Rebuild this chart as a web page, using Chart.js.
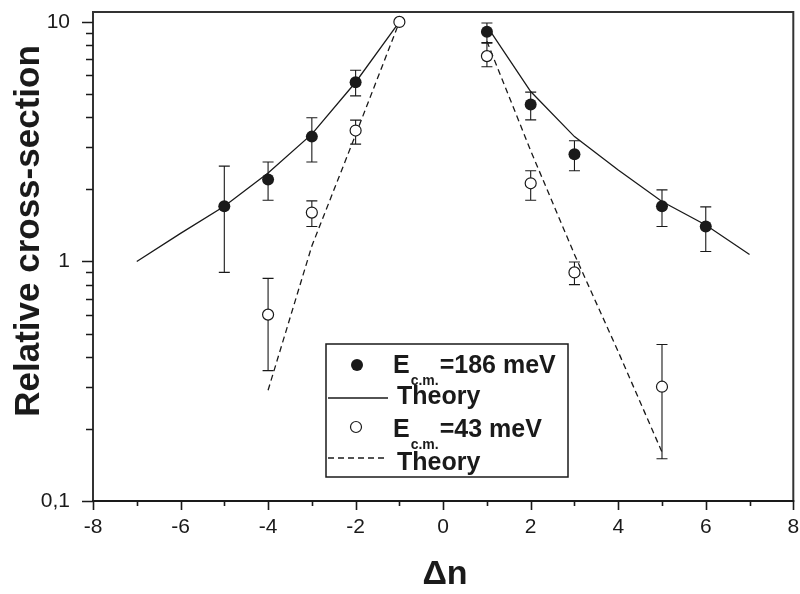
<!DOCTYPE html>
<html>
<head>
<meta charset="utf-8">
<script src="https://cdn.jsdelivr.net/npm/chart.js@4.4.1/dist/chart.umd.min.js"></script>
<style>
  html, body { margin: 0; padding: 0; background: #fff; }
  #wrap { width: 800px; height: 594px; position: relative; }
</style>
</head>
<body>
<div id="wrap"><canvas id="c" width="800" height="594"></canvas></div>
<script>
// ---- Data ----
const hotX    = [-5, -4, -3, -2, 1, 2, 3, 5, 6];
const hotY    = [1.7, 2.2, 3.32, 5.6, 9.1, 4.52, 2.8, 1.7, 1.4];
const hotLow  = [0.9, 1.8, 2.6, 4.91, 8.2, 3.9, 2.39, 1.4, 1.1];
const hotHigh = [2.5, 2.6, 3.98, 6.28, 9.9, 5.09, 3.19, 1.99, 1.69];

const coldX    = [-4, -3, -2, -1, 1, 2, 3, 5];
const coldY    = [0.6, 1.6, 3.52, 10, 7.2, 2.12, 0.9, 0.3];
const coldLow  = [0.35, 1.4, 3.09, null, 6.5, 1.8, 0.8, 0.15];
const coldHigh = [0.85, 1.79, 3.89, null, 8.15, 2.39, 0.995, 0.45];

const thHotLeftX  = [-7, -6, -5, -4, -3, -2, -1];
const thHotLeftY  = [1.0, 1.31, 1.7, 2.34, 3.4, 5.6, 10];
const thHotRightX = [1, 2, 3, 4, 5, 6, 7];
const thHotRightY = [9.6, 5.12, 3.32, 2.41, 1.78, 1.42, 1.07];

const thColdLeftX  = [-4, -3, -2, -1];
const thColdLeftY  = [0.29, 1.16, 3.38, 10];
const thColdRightX = [1, 2, 3, 4, 5];
const thColdRightY = [8.3, 2.9, 1.07, 0.42, 0.16];

const xTickValues = [-8, -7, -6, -5, -4, -3, -2, -1, 0, 1, 2, 3, 4, 5, 6, 7, 8];
const xTickLabels = ['-8', '', '-6', '', '-4', '', '-2', '', '0', '', '2', '', '4', '', '6', '', '8'];
const yTickValues = [0.1, 0.2, 0.3, 0.4, 0.5, 0.6, 0.7, 0.8, 0.9, 1, 2, 3, 4, 5, 6, 7, 8, 9, 10];
const yTickLabels = ['0,1', '', '', '', '', '', '', '', '', '1', '', '', '', '', '', '', '', '', '10'];

const legendLabels = ['E', 'c.m.', '=186 meV', 'Theory', 'E', 'c.m.', '=43 meV', 'Theory'];
const xTitle = 'Δn';
const yTitle = 'Relative cross-section';

// ---- Build ----
const pts = (xs, ys) => xs.map((x, i) => ({ x: x, y: ys[i] }));
const FONT = '"Liberation Sans", Arial, sans-serif';
const TICKFONT = '"Liberation Sans Narrow", "Arial Narrow", "Liberation Sans", Arial, sans-serif';
const INK = '#1a1a1a';

const errorBars = {
  id: 'errorBars',
  beforeDatasetsDraw(chart) {
    const ctx = chart.ctx, xs = chart.scales.x, ys = chart.scales.y;
    ctx.save();
    ctx.strokeStyle = INK;
    ctx.lineWidth = 1.1;
    const draw = (X, L, H) => {
      X.forEach((x, i) => {
        if (L[i] == null || H[i] == null) return;
        const px = xs.getPixelForValue(x);
        const p1 = ys.getPixelForValue(L[i]);
        const p2 = ys.getPixelForValue(H[i]);
        ctx.beginPath();
        ctx.moveTo(px, p1); ctx.lineTo(px, p2);
        ctx.moveTo(px - 5.5, p1); ctx.lineTo(px + 5.5, p1);
        ctx.moveTo(px - 5.5, p2); ctx.lineTo(px + 5.5, p2);
        ctx.stroke();
      });
    };
    draw(hotX, hotLow, hotHigh);
    draw(coldX, coldLow, coldHigh);
    ctx.restore();
  }
};

const frame = {
  id: 'frame',
  afterDraw(chart) {
    const ctx = chart.ctx, a = chart.chartArea, xs = chart.scales.x, ys = chart.scales.y;
    ctx.save();
    // frame
    ctx.strokeStyle = '#333';
    ctx.lineWidth = 2;
    ctx.beginPath();
    ctx.moveTo(a.left, a.bottom); ctx.lineTo(a.left, a.top); ctx.lineTo(a.right, a.top); ctx.lineTo(a.right, a.bottom);
    ctx.stroke();
    ctx.strokeStyle = INK;
    ctx.beginPath();
    ctx.moveTo(a.left - 1, a.bottom); ctx.lineTo(a.right + 1, a.bottom);
    ctx.stroke();
    // ticks
    ctx.lineWidth = 1.6;
    ctx.beginPath();
    xTickValues.forEach((v, i) => {
      const px = Math.round(xs.getPixelForValue(v)) + 0.5;
      const len = xTickLabels[i] !== '' ? 9 : 5;
      ctx.moveTo(px, a.bottom); ctx.lineTo(px, a.bottom + len);
    });
    yTickValues.forEach((v, i) => {
      const py = Math.round(ys.getPixelForValue(v)) + 0.5;
      const len = yTickLabels[i] !== '' ? 11 : 7;
      ctx.moveTo(a.left, py); ctx.lineTo(a.left - len, py);
    });
    ctx.stroke();

    // axis titles
    ctx.fillStyle = INK;
    ctx.font = 'bold 34px ' + FONT;
    ctx.textAlign = 'center';
    ctx.textBaseline = 'alphabetic';
    ctx.fillText(xTitle, 445, 584);
    ctx.save();
    ctx.translate(39, 231);
    ctx.rotate(-Math.PI / 2);
    ctx.font = 'bold 35px ' + FONT;
    ctx.fillText(yTitle, 0, 0);
    ctx.restore();

    // legend
    const L = 326, T = 344, R = 568, B = 477;
    ctx.fillStyle = '#fff';
    ctx.fillRect(L, T, R - L, B - T);
    ctx.strokeStyle = INK;
    ctx.lineWidth = 1.5;
    ctx.strokeRect(L, T, R - L, B - T);

    ctx.fillStyle = INK;
    ctx.beginPath(); ctx.arc(357, 365, 6, 0, Math.PI * 2); ctx.fill();
    ctx.fillStyle = '#fff';
    ctx.lineWidth = 1.2;
    ctx.beginPath(); ctx.arc(356, 427, 5.5, 0, Math.PI * 2); ctx.fill(); ctx.stroke();

    ctx.lineWidth = 1.3;
    ctx.beginPath(); ctx.moveTo(328, 398); ctx.lineTo(388, 398); ctx.stroke();
    ctx.setLineDash([6, 4]);
    ctx.beginPath(); ctx.moveTo(328, 458); ctx.lineTo(388, 458); ctx.stroke();
    ctx.setLineDash([]);

    ctx.fillStyle = INK;
    ctx.textAlign = 'left';
    const big = 'bold 25px ' + FONT, small = 'bold 14px ' + FONT;
    const eRow = (base, i0) => {
      let x = 393;
      ctx.font = big; ctx.fillText(legendLabels[i0], x, base); x += ctx.measureText(legendLabels[i0]).width + 1;
      ctx.font = small; ctx.fillText(legendLabels[i0 + 1], x, base + 11.5); x += ctx.measureText(legendLabels[i0 + 1]).width + 1;
      ctx.font = big; ctx.fillText(legendLabels[i0 + 2], x, base);
    };
    eRow(373, 0);
    ctx.font = big; ctx.fillText(legendLabels[3], 397, 404);
    eRow(437, 4);
    ctx.font = big; ctx.fillText(legendLabels[7], 397, 470);
    ctx.restore();
  }
};

const lineDs = (xs, ys, dash) => ({
  type: 'scatter', data: pts(xs, ys), showLine: true, borderColor: INK, borderWidth: 1.3,
  borderDash: dash, pointRadius: 0, fill: false, tension: 0, order: 3
});

new Chart(document.getElementById('c'), {
  type: 'scatter',
  data: {
    datasets: [
      lineDs(thHotLeftX, thHotLeftY, []),
      lineDs(thHotRightX, thHotRightY, []),
      lineDs(thColdLeftX, thColdLeftY, [6, 4]),
      lineDs(thColdRightX, thColdRightY, [6, 4]),
      { data: pts(hotX, hotY), pointRadius: 6, pointBackgroundColor: INK, pointBorderColor: INK, pointBorderWidth: 0, order: 1 },
      { data: pts(coldX, coldY), pointRadius: 5.5, pointBackgroundColor: '#fff', pointBorderColor: INK, pointBorderWidth: 1.2, order: 1 }
    ]
  },
  options: {
    responsive: false,
    animation: false,
    events: [],
    layout: { padding: { top: 12, right: 5, left: 0, bottom: 0 } },
    plugins: { legend: { display: false }, tooltip: { enabled: false } },
    scales: {
      x: {
        type: 'linear', min: -8, max: 8,
        grid: { display: false, drawTicks: false },
        border: { display: false },
        afterBuildTicks: s => { s.ticks = xTickValues.map(v => ({ value: v })); },
        afterFit: s => { s.height = 93; s.paddingLeft = 0; s.paddingRight = 0; },
        ticks: {
          autoSkip: false, maxRotation: 0, padding: 14, color: INK,
          font: { family: TICKFONT, size: 21 },
          callback: (v) => xTickLabels[xTickValues.indexOf(v)] || ''
        }
      },
      y: {
        type: 'logarithmic', min: 0.1, max: 11,
        grid: { display: false, drawTicks: false },
        border: { display: false },
        afterBuildTicks: s => { s.ticks = yTickValues.map(v => ({ value: v, major: false })); },
        afterFit: s => { s.width = 93; s.paddingTop = 0; s.paddingBottom = 0; },
        ticks: {
          autoSkip: false, padding: 23, color: INK,
          font: { family: TICKFONT, size: 21 },
          callback: (v) => { const i = yTickValues.findIndex(t => Math.abs(t - v) < 1e-9); return i >= 0 ? yTickLabels[i] : ''; }
        }
      }
    }
  },
  plugins: [errorBars, frame]
});
</script>
</body>
</html>
